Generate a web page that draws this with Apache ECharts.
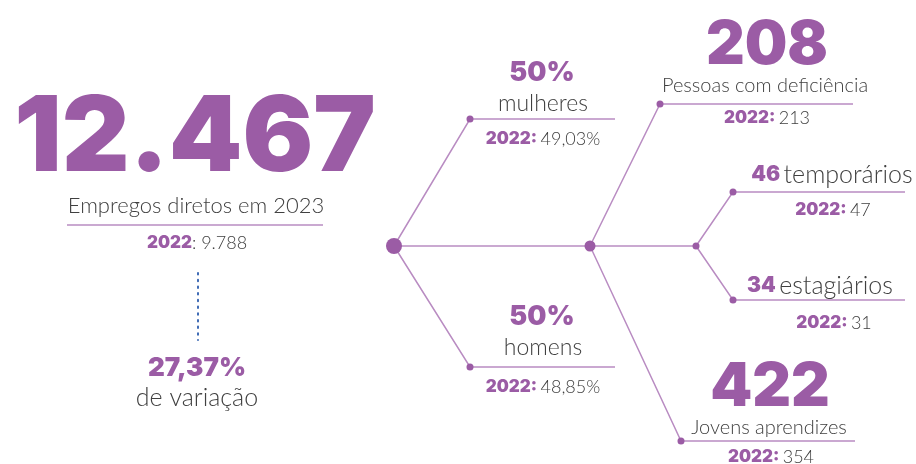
<!DOCTYPE html>
<html>
<head>
<meta charset="utf-8">
<script src="https://cdn.jsdelivr.net/npm/echarts@6/dist/echarts.min.js"></script>
<style>
  html, body { margin: 0; padding: 0; background: #fff; }
  #chart { width: 916px; height: 464px; }
</style>
</head>
<body>
<div id="chart"></div>
<script>
// dados
const anos = ['2023', '2022'];
const empregosDiretos = [12467, 9788];
const variacao = [27.37];
const generoCategorias = ['mulheres', 'homens'];
const genero2023 = [50, 50];
const genero2022 = [49.03, 48.85];
const grupoCategorias = ['Pessoas com deficiência', 'temporários', 'estagiários', 'Jovens aprendizes'];
const grupo2023 = [208, 46, 34, 422];
const grupo2022 = [213, 47, 31, 354];

const purple = '#9b5ca5';
const lineColor = '#b98cc2';
const grey = '#404040';

// formatação pt-BR
function fmtInt(n) {
	return String(n).replace(/\B(?=(\d{3})+(?!\d))/g, '.');
}
function fmtDec(n) {
	return Number.isInteger(n) ? String(n) : n.toFixed(2).replace('.', ',');
}

// layout (posições em px do quadro)
const nos = {
	raiz: [394, 246], mulheres: [470, 119], homens: [470, 367],
	hub: [590, 246], pcd: [660, 104], jovens: [681, 441],
	hub2: [696, 246], temp: [733, 192], estag: [733, 300]
};
const tamanhoNo = { raiz: 16, hub: 11, hub2: 7 };

let ramos = [
	[nos.raiz, nos.mulheres, [615, 119]],
	[nos.raiz, nos.homens, [615, 367]],
	[nos.raiz, nos.hub, nos.hub2],
	[nos.hub, nos.pcd, [853, 104]],
	[nos.hub, nos.jovens, [855, 441]],
	[nos.hub2, nos.temp, [905, 192]],
	[nos.hub2, nos.estag, [905, 300]],
	[[67, 225], [323, 225]]
];

let textos = [
	[195, 139, '{h105|' + fmtInt(empregosDiretos[0]) + '}'],
	[196, 206, '{l22|Empregos diretos em ' + anos[0] + '}'],
	[197, 243, '{h17|' + anos[1] + '}{l18|: ' + fmtInt(empregosDiretos[1]) + '}'],
	[197, 368, '{h26|' + fmtDec(variacao[0]) + '%}'],
	[197, 398, '{l25|de variação}'],
	[542, 73, '{h27|' + fmtDec(genero2023[0]) + '%}'],
	[543, 104, '{l23|' + generoCategorias[0] + '}'],
	[543, 139, '{h17|' + anos[1] + ':} {l18|' + fmtDec(genero2022[0]) + '%}'],
	[542, 317, '{h27|' + fmtDec(genero2023[1]) + '%}'],
	[543, 348, '{l23|' + generoCategorias[1] + '}'],
	[543, 387, '{h17|' + anos[1] + ':} {l18|' + fmtDec(genero2022[1]) + '%}'],
	[767, 46, '{h60|' + grupo2023[0] + '}'],
	[765, 86, '{l20|' + grupoCategorias[0] + '}'],
	[767, 118, '{h17|' + anos[1] + ':} {l18|' + grupo2022[0] + '}'],
	[832, 175, '{h21|' + grupo2023[1] + '} {l25|' + grupoCategorias[1] + '}'],
	[833, 210, '{h17|' + anos[1] + ':} {l18|' + grupo2022[1] + '}'],
	[820, 286, '{h21|' + grupo2023[2] + '} {l25|' + grupoCategorias[2] + '}'],
	[834, 323, '{h17|' + anos[1] + ':} {l18|' + grupo2022[2] + '}'],
	[770, 388, '{h60|' + grupo2023[3] + '}'],
	[769, 428, '{l20|' + grupoCategorias[3] + '}'],
	[771, 457, '{h17|' + anos[1] + ':} {l18|' + grupo2022[3] + '}']
];

let rich = {};
[105, 60, 27, 26, 21, 17].forEach(function(s) {
	rich['h' + s] = { fontSize: s, fontFamily: 'Inter', fontWeight: 900, color: purple };
});
[25, 23, 22, 20, 18].forEach(function(s) {
	rich['l' + s] = { fontSize: s, fontFamily: 'Lato', fontWeight: 300, color: grey };
});

let myChart = echarts.init(document.getElementById('chart'));
let option = {
	animation: false,
	grid: { left: 0, right: 0, top: 0, bottom: 0 },
	xAxis: { type: 'value', min: 0, max: 916, show: false },
	yAxis: { type: 'value', min: 0, max: 464, inverse: true, show: false },
	series: [{
		type: 'lines',
		coordinateSystem: 'cartesian2d',
		polyline: true,
		silent: true,
		lineStyle: { color: lineColor, width: 1.5, opacity: 1 },
		data: ramos.map(function(c) { return { coords: c }; })
	}, {
		type: 'lines',
		coordinateSystem: 'cartesian2d',
		silent: true,
		lineStyle: { color: '#3f6bb5', width: 2, type: [1.5, 5.2], cap: 'round', opacity: 1 },
		data: [{ coords: [[198, 273], [198, 340]] }]
	}, {
		type: 'scatter',
		silent: true,
		itemStyle: { color: purple, opacity: 1 },
		data: Object.keys(nos).map(function(k) {
			return { value: nos[k], symbolSize: tamanhoNo[k] || 7 };
		})
	}, {
		type: 'scatter',
		silent: true,
		symbolSize: 1,
		itemStyle: { color: 'rgba(0,0,0,0)', opacity: 1 },
		label: {
			show: true,
			position: 'inside',
			align: 'center',
			verticalAlign: 'middle',
			opacity: 1,
			formatter: function(p) { return p.value[2]; },
			rich: rich
		},
		data: textos
	}]
};
myChart.setOption(option);
</script>
</body>
</html>
